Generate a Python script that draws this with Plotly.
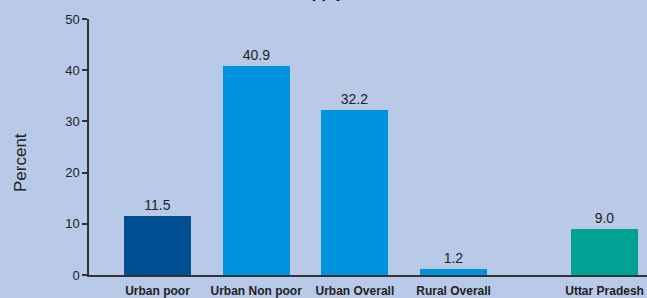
import plotly.graph_objects as go

categories = ["Urban poor", "Urban Non poor", "Urban Overall", "Rural Overall", "Uttar Pradesh"]
values = [11.5, 40.9, 32.2, 1.2, 9.0]
value_labels = ["11.5", "40.9", "32.2", "1.2", "9.0"]
y_ticks = [0, 10, 20, 30, 40, 50]

colors = ["#004F93", "#0093DD", "#0093DD", "#0093DD", "#00A393"]
x_pos = [0, 1, 2, 3, 4.53]

fig = go.Figure()
fig.add_trace(go.Bar(
    x=x_pos, y=values, width=0.68,
    marker=dict(color=colors, line=dict(width=0)),
    text=value_labels, textposition="outside",
    textfont=dict(family="Liberation Sans, Arial", size=14, color="#222"),
    cliponaxis=False,
))

bg = "#B8CAE7"
fig.update_layout(
    width=647, height=298,
    paper_bgcolor=bg, plot_bgcolor=bg,
    margin=dict(l=89, r=0, t=19, b=23),
    showlegend=False,
    bargap=0,
    font=dict(family="Liberation Sans, Arial", color="#222"),
    xaxis=dict(
        range=[-0.694, 4.96], tickvals=x_pos, ticktext=categories,
        showgrid=False, zeroline=False, showline=True, linecolor="#333", linewidth=1.5,
        ticks="", tickfont=dict(size=12, family="Liberation Sans, Arial", color="#222", weight="bold"),
        ticklabelstandoff=4,
    ),
    yaxis=dict(
        range=[0, 50], tickvals=y_ticks,
        showgrid=False, zeroline=False, showline=True, linecolor="#333", linewidth=1.5,
        ticks="outside", ticklen=5, tickcolor="#333", tickwidth=1.5,
        tickfont=dict(size=13, color="#222"),
    ),
    annotations=[
        dict(
            text="<b>Access to Water Supply</b>", xref="paper", yref="paper",
            x=(347 - 89) / 558, y=1 + (19 - 3.5) / 256, xanchor="right", yanchor="bottom",
            showarrow=False, font=dict(size=16, color="#111"),
        ),
        dict(
            text="Percent", xref="paper", yref="paper", textangle=-90,
            x=(20 - 89) / 558, y=(275 - 163) / 256, xanchor="center", yanchor="middle",
            showarrow=False, font=dict(size=17, color="#222"),
        ),
    ],
)

fig.write_html("out.html", config={"displayModeBar": False},
               post_script="document.body.style.margin='0';document.body.style.overflow='hidden';")
